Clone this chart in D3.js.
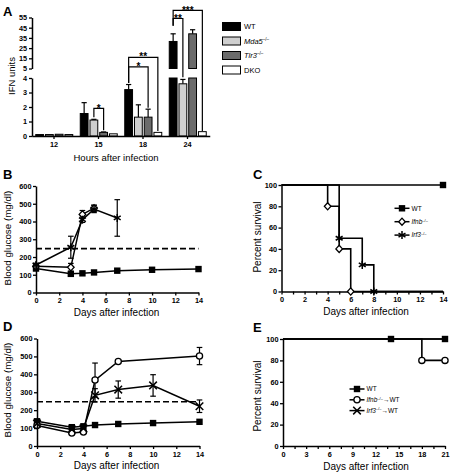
<!DOCTYPE html>
<html><head><meta charset="utf-8">
<script src="https://cdn.jsdelivr.net/npm/d3@7"></script>
<style>
body{margin:0;background:#fff}
svg{display:block}
text{font-family:"Liberation Sans",Arial,Helvetica,sans-serif;fill:#000}
</style>
</head><body>
<svg id="chart" width="457" height="474"></svg>
<script>
// ---------------- Panel A data ----------------
const hours = ["12","15","18","24"];
const seriesA = ["WT","Mda5","Tlr3","DKO"];
const ifnWT   = [0.1, 1.55, 3.2, 31.5];
const ifnMda5 = [0.1, 1.1, 1.3, 3.6];
const ifnTlr3 = [0.12, 0.25, 1.3, 39];
const ifnDKO  = [0.1, 0.15, 0.25, 0.3];
const semWT   = [0, 0.75, 0.35, 7.5];
const semMda5 = [0, 0.05, 0.85, 0.3];
const semTlr3 = [0, 0.03, 0.55, 4];
const semDKO  = [0, 0, 0, 0];
const ticksLowA  = [0,1,2,3,4];
const ticksHighA = [5,15,25,35,45,55];
// significance brackets
const sigGroup  = ["15","18","18","24","24"];
const sigFrom   = ["Mda5","WT","WT","WT","WT"];
const sigTo     = ["Tlr3","Tlr3","DKO","Mda5","DKO"];
const sigLabel  = ["*","*","**","**","***"];
const sigTop    = [1.9, 6.5, 16, 54, 62];
const sigLegFrom= [1.3, 3.65, 3.65, 47, 47];
const sigLegTo  = [0.4, 1.95, 0.35, 4.05, 0.35];

// ---------------- Panel B data ----------------
const daysB_WT = [0,3,4,5,7,10,14];
const gluB_WT  = [135,105,108,113,123,128,132];
const errB_WT  = [0,0,0,0,0,0,0];
const daysB_Ifnb = [0,3,4,5];
const gluB_Ifnb  = [148,142,440,475];
const errB_Ifnb  = [10,22,22,18];
const daysB_Irf3 = [0,3,4,5,7];
const gluB_Irf3  = [155,255,410,470,420];
const errB_Irf3  = [10,62,15,20,103];
const thresholdGlu = 247;

// ---------------- Panel C data ----------------
const daysC_WT = [0,14];
const survC_WT = [100,100];
const markC_WT = [false,true];
const daysC_Ifnb = [0,4,5,6,14];
const survC_Ifnb = [100,80,40,0,0];
const markC_Ifnb = [false,true,true,true,false];
const daysC_Irf3 = [0,5,7,8,14];
const survC_Irf3 = [100,50,25,0,0];
const markC_Irf3 = [false,true,true,true,false];

// ---------------- Panel D data ----------------
const daysD_WT = [0,3,4,5,7,10,14];
const gluD_WT  = [138,105,110,117,123,128,135];
const errD_WT  = [0,0,0,0,0,0,0];
const daysD_Ifnb = [0,3,4,5,7,14];
const gluD_Ifnb  = [115,72,78,368,472,502];
const errD_Ifnb  = [10,8,8,95,8,48];
const daysD_Irf3 = [0,3,4,5,7,10,14];
const gluD_Irf3  = [125,92,98,283,315,338,222];
const errD_Irf3  = [10,8,8,37,48,60,35];

// ---------------- Panel E data ----------------
const daysE_WT = [0,14,21];
const survE_WT = [100,100,100];
const markE_WT = [false,true,true];
const daysE_Ifnb = [0,18,21];
const survE_Ifnb = [100,80,80];
const markE_Ifnb = [false,true,true];
const daysE_Irf3 = [0,21];
const survE_Irf3 = [100,100];
const markE_Irf3 = [false,false];

// tick values
const glucoseTicks = [0,100,200,300,400,500,600];
const dayTicks14 = [0,2,4,6,8,10,12,14];
const dayMinor14 = [1,3,5,7,9,11,13];
const survTicks = [0,20,40,60,80,100];
const dayTicks21 = [0,3,6,9,12,15,18,21];
const dayMinor21 = [1.5,4.5,7.5,10.5,13.5,16.5,19.5];

const svg = d3.select("#chart");
const fillA = {WT:"#000", Mda5:"#cfcfcf", Tlr3:"#6b6b6b", DKO:"#fff"};
const fmtInt = d3.format("d");

function styleAxis(g){
  g.select(".domain").attr("stroke","#000").attr("stroke-width",1.5);
  g.selectAll(".tick line").attr("stroke","#000").attr("stroke-width",1.3);
  g.selectAll(".tick text").attr("font-size",7.3).attr("font-weight","bold").attr("fill","#000")
    .attr("font-family","'Liberation Sans',Arial,sans-serif");
}
function panelLetter(t,x,y){
  svg.append("text").attr("x",x).attr("y",y).attr("font-size",13)
    .attr("font-weight","bold").text(t);
}
function yTitle(t,x,y,fs){
  svg.append("text").attr("transform",`translate(${x},${y}) rotate(-90)`)
    .attr("text-anchor","middle").attr("font-size",fs).text(t);
}
function xTitle(t,x,y,fs){
  svg.append("text").attr("x",x).attr("y",y).attr("text-anchor","middle")
    .attr("font-size",fs).text(t);
}

// ================= Panel A =================
(function(){
  const xG = d3.scaleBand().domain(hours).range([31.75,209.75]).paddingInner(0).paddingOuter(0);
  const xS = d3.scaleBand().domain(seriesA).range([4,41]).paddingInner(0.2);
  const yLow = d3.scaleLinear().domain([0,4]).range([136,78]);
  const yHigh = d3.scaleLinear().domain([5,55]).range([68.5,17.5]);
  const yA = v => v <= 4.5 ? yLow(v) : yHigh(v);
  const vals = {WT:ifnWT, Mda5:ifnMda5, Tlr3:ifnTlr3, DKO:ifnDKO};
  const sems = {WT:semWT, Mda5:semMda5, Tlr3:semTlr3, DKO:semDKO};
  const g = svg.append("g");
  const cx = (h,s) => xG(h) + xS(s) + xS.bandwidth()/2;

  seriesA.forEach(s=>{
    hours.forEach((h,i)=>{
      const v = vals[s][i], e = sems[s][i];
      const x = xG(h)+xS(s), w = xS.bandwidth();
      if(e>0){
        const yt = yA(v+e), yb = yA(v);
        g.append("line").attr("x1",cx(h,s)).attr("x2",cx(h,s)).attr("y1",yt).attr("y2",yb)
          .attr("stroke","#000").attr("stroke-width",1.2);
        g.append("line").attr("x1",cx(h,s)-2.6).attr("x2",cx(h,s)+2.6).attr("y1",yt).attr("y2",yt)
          .attr("stroke","#000").attr("stroke-width",1.2);
      }
      if(v<=4){
        g.append("rect").attr("x",x).attr("width",w).attr("y",yLow(v)).attr("height",yLow(0)-yLow(v))
          .attr("fill",fillA[s]).attr("stroke","#000").attr("stroke-width",1);
      } else {
        g.append("rect").attr("x",x).attr("width",w).attr("y",yLow(4)).attr("height",yLow(0)-yLow(4))
          .attr("fill",fillA[s]).attr("stroke","#000").attr("stroke-width",1);
        g.append("rect").attr("x",x).attr("width",w).attr("y",yHigh(v)).attr("height",yHigh(5)-yHigh(v))
          .attr("fill",fillA[s]).attr("stroke","#000").attr("stroke-width",1);
      }
    });
  });
  sigLabel.forEach((lab,i)=>{
    const x1 = cx(sigGroup[i],sigFrom[i]), x2 = cx(sigGroup[i],sigTo[i]);
    const yt = yA(sigTop[i]);
    g.append("path").attr("d",`M${x1},${yA(sigLegFrom[i])}V${yt}H${x2}V${yA(sigLegTo[i])}`)
      .attr("fill","none").attr("stroke","#000").attr("stroke-width",1.2);
    g.append("text").attr("x",(x1+x2)/2).attr("y",yt+3.2).attr("text-anchor","middle")
      .attr("font-size",10).attr("font-weight","bold").text(lab);
  });
  const ax = g.append("g").attr("transform","translate(0,136)")
    .call(d3.axisBottom(xG).tickSize(3).tickSizeOuter(0).tickPadding(3));
  styleAxis(ax);
  const ayL = g.append("g").attr("transform","translate(32,0)")
    .call(d3.axisLeft(yLow).tickValues(ticksLowA).tickFormat(fmtInt).tickSize(3).tickSizeOuter(0).tickPadding(2));
  styleAxis(ayL);
  const ayH = g.append("g").attr("transform","translate(32,0)")
    .call(d3.axisLeft(yHigh).tickValues(ticksHighA).tickFormat(fmtInt).tickSize(3).tickSizeOuter(0).tickPadding(2));
  styleAxis(ayH);
  seriesA.forEach((s,i)=>{
    const ly = 26.5 + i*14.5;
    g.append("rect").attr("x",222.5).attr("y",ly-4).attr("width",18).attr("height",8)
      .attr("fill",fillA[s]).attr("stroke","#000").attr("stroke-width",1);
    const t = g.append("text").attr("x",244).attr("y",ly+2.8).attr("font-size",7.5);
    if(s==="WT"||s==="DKO"){ t.text(s); }
    else {
      t.append("tspan").attr("font-style","italic").text(s);
      t.append("tspan").attr("font-size",4.5).attr("dy",-3).text("–/–");
    }
  });
  panelLetter("A",3,16);
  yTitle("IFN units",14.5,76,9.5);
  xTitle("Hours after infection",116,160.5,9.5);
})();

// ================= markers =================
function marker(g,type,x,y){
  const sw = 1.3;
  if(type==="square"){
    g.append("rect").attr("x",x-3.2).attr("y",y-3.2).attr("width",6.4).attr("height",6.4).attr("fill","#000");
  } else if(type==="diamond"){
    g.append("path").attr("d",`M${x},${y-3.6}L${x+3.3},${y}L${x},${y+3.6}L${x-3.3},${y}Z`)
      .attr("fill","#fff").attr("stroke","#000").attr("stroke-width",sw);
  } else if(type==="circle"){
    g.append("circle").attr("cx",x).attr("cy",y).attr("r",3.1).attr("fill","#fff")
      .attr("stroke","#000").attr("stroke-width",sw);
  } else if(type==="asterisk"){
    const r=4;
    [90,30,150].forEach(a=>{
      const dx=r*Math.cos(a*Math.PI/180), dy=r*Math.sin(a*Math.PI/180);
      g.append("line").attr("x1",x-dx).attr("y1",y-dy).attr("x2",x+dx).attr("y2",y+dy)
        .attr("stroke","#000").attr("stroke-width",1.5);
    });
  } else if(type==="x"){
    const r=3.8;
    [[r,r],[r,-r]].forEach(([dx,dy])=>{
      g.append("line").attr("x1",x-dx).attr("y1",y-dy).attr("x2",x+dx).attr("y2",y+dy)
        .attr("stroke","#000").attr("stroke-width",1.5);
    });
  }
}
function errbar(g,x,yt,yb){
  g.append("line").attr("x1",x).attr("x2",x).attr("y1",yt).attr("y2",yb).attr("stroke","#000").attr("stroke-width",1.2);
  [yt,yb].forEach(yy=>g.append("line").attr("x1",x-2.8).attr("x2",x+2.8).attr("y1",yy).attr("y2",yy)
    .attr("stroke","#000").attr("stroke-width",1.2));
}

// ================= Glucose panels (B, D) =================
function glucosePanel(L, series, letter, letterPos){
  const x = d3.scaleLinear().domain([0,14]).range([L.x0,L.x1]);
  const y = d3.scaleLinear().domain([0,600]).range([L.y0,L.y1]);
  const g = svg.append("g");
  g.append("line").attr("x1",x(0)).attr("x2",x(14)).attr("y1",y(thresholdGlu)).attr("y2",y(thresholdGlu))
    .attr("stroke","#000").attr("stroke-width",1.6).attr("stroke-dasharray","6,3");
  series.forEach(s=>{
    s.days.forEach((d,i)=>{ if(s.err[i]>0) errbar(g,x(d),y(s.vals[i]+s.err[i]),y(s.vals[i]-s.err[i])); });
  });
  series.forEach(s=>{
    const pts = s.days.map((d,i)=>[x(d),y(s.vals[i])]);
    g.append("path").attr("d",d3.line()(pts)).attr("fill","none").attr("stroke","#000").attr("stroke-width",1.5);
  });
  series.forEach(s=>{
    s.days.forEach((d,i)=>marker(g,s.marker,x(d),y(s.vals[i])));
  });
  const ax = g.append("g").attr("transform",`translate(0,${L.y0})`)
    .call(d3.axisBottom(x).tickValues(dayTicks14).tickFormat(fmtInt).tickSize(3).tickSizeOuter(0).tickPadding(2.5));
  styleAxis(ax);
  const ay = g.append("g").attr("transform",`translate(${L.x0},0)`)
    .call(d3.axisLeft(y).tickValues(glucoseTicks).tickFormat(fmtInt).tickSize(3).tickSizeOuter(0).tickPadding(1.5));
  styleAxis(ay);
  panelLetter(letter,letterPos[0],letterPos[1]);
  yTitle("Blood glucose (mg/dl)",11,L.ty,9.8);
  xTitle("Days after infection",116.5,L.y0+23.3,10);
}
glucosePanel({x0:36,x1:198.5,y0:292.5,y1:186,ty:238},[
  {days:daysB_WT,vals:gluB_WT,err:errB_WT,marker:"square"},
  {days:daysB_Ifnb,vals:gluB_Ifnb,err:errB_Ifnb,marker:"diamond"},
  {days:daysB_Irf3,vals:gluB_Irf3,err:errB_Irf3,marker:"asterisk"}
],"B",[3,179]);
glucosePanel({x0:37,x1:199.5,y0:446,y1:338.5,ty:390},[
  {days:daysD_WT,vals:gluD_WT,err:errD_WT,marker:"square"},
  {days:daysD_Ifnb,vals:gluD_Ifnb,err:errD_Ifnb,marker:"circle"},
  {days:daysD_Irf3,vals:gluD_Irf3,err:errD_Irf3,marker:"x"}
],"D",[3,331]);

// ================= Survival panels (C, E) =================
function survivalPanel(L, series, maxDay, ticks, minor, letter, letterPos, legend){
  const x = d3.scaleLinear().domain([0,maxDay]).range([L.x0,L.x1]);
  const y = d3.scaleLinear().domain([0,100]).range([L.y0,L.y1]);
  const g = svg.append("g");
  const line = d3.line().x(d=>x(d[0])).y(d=>y(d[1])).curve(d3.curveStepAfter);
  series.slice().reverse().forEach(s=>{
    const pts = s.days.map((d,i)=>[d,s.vals[i]]);
    g.append("path").attr("d",line(pts)).attr("fill","none").attr("stroke","#000").attr("stroke-width",1.6);
  });
  const ax = g.append("g").attr("transform",`translate(0,${L.y0})`)
    .call(d3.axisBottom(x).tickValues(ticks).tickFormat(fmtInt).tickSize(3).tickSizeOuter(0).tickPadding(2.5));
  styleAxis(ax);
  const axm = g.append("g").attr("transform",`translate(0,${L.y0})`)
    .call(d3.axisBottom(x).tickValues(minor).tickSize(3).tickFormat(""));
  axm.select(".domain").remove();
  axm.selectAll(".tick line").attr("stroke","#000").attr("stroke-width",1.3);
  const ay = g.append("g").attr("transform",`translate(${L.x0},0)`)
    .call(d3.axisLeft(y).tickValues(survTicks).tickFormat(fmtInt).tickSize(3).tickSizeOuter(0).tickPadding(1.5));
  styleAxis(ay);
  series.forEach(s=>{
    s.days.forEach((d,i)=>{ if(s.mark[i]) marker(g,s.marker,x(d),y(s.vals[i])); });
  });
  series.forEach((s,i)=>{
    const ly = legend.y + i*legend.dy;
    g.append("line").attr("x1",legend.x).attr("x2",legend.x+15).attr("y1",ly).attr("y2",ly)
      .attr("stroke","#000").attr("stroke-width",1.5);
    marker(g,s.marker,legend.x+7.5,ly);
    const t = g.append("text").attr("x",legend.x+17).attr("y",ly+2.3).attr("font-size",6.5);
    if(s.gene){
      t.append("tspan").attr("font-style","italic").text(s.gene);
      t.append("tspan").attr("font-size",4).attr("dy",-2.5).text("–/–");
      if(s.suffix) t.append("tspan").attr("dy",2.5).text(s.suffix);
    } else t.text(s.name);
  });
  panelLetter(letter,letterPos[0],letterPos[1]);
  yTitle("Percent survival",260.5,L.ty,10);
  xTitle("Days after infection",366,L.y0+23.8,10);
}
survivalPanel({x0:281.5,x1:443,y0:291.5,y1:185,ty:237},[
  {name:"WT",days:daysC_WT,vals:survC_WT,mark:markC_WT,marker:"square"},
  {gene:"Ifnb",days:daysC_Ifnb,vals:survC_Ifnb,mark:markC_Ifnb,marker:"diamond"},
  {gene:"Irf3",days:daysC_Irf3,vals:survC_Irf3,mark:markC_Irf3,marker:"asterisk"}
],14,dayTicks14,dayMinor14,"C",[253,179],{x:394.5,y:208.3,dy:13.4});
survivalPanel({x0:283,x1:445,y0:446,y1:339,ty:396},[
  {name:"WT",days:daysE_WT,vals:survE_WT,mark:markE_WT,marker:"square"},
  {gene:"Ifnb",suffix:"→WT",days:daysE_Ifnb,vals:survE_Ifnb,mark:markE_Ifnb,marker:"circle"},
  {gene:"Irf3",suffix:"→WT",days:daysE_Irf3,vals:survE_Irf3,mark:markE_Irf3,marker:"x"}
],21,dayTicks21,dayMinor21,"E",[253,332],{x:349.5,y:389,dy:10.8});
</script>
</body></html>
